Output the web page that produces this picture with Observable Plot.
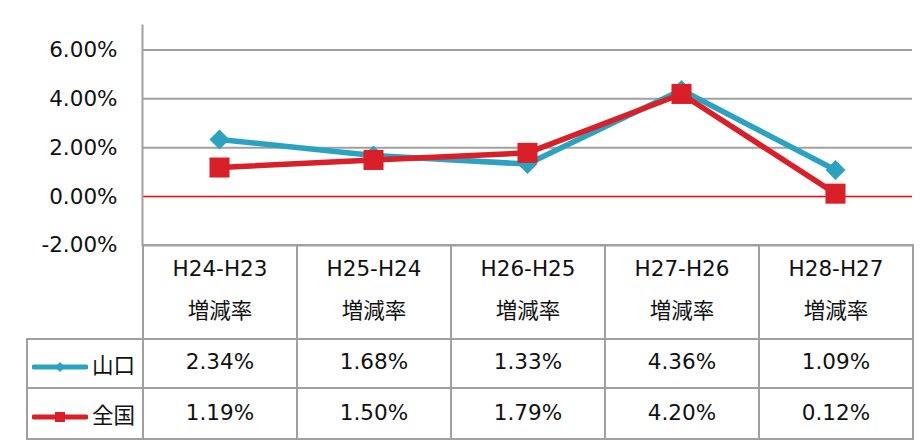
<!DOCTYPE html>
<html><head><meta charset="utf-8">
<script src="https://cdn.jsdelivr.net/npm/d3@7"></script>
<script src="https://cdn.jsdelivr.net/npm/@observablehq/plot@0.6"></script>
<style>
body{margin:0;background:#fff;font-family:"DejaVu Sans","Noto Sans CJK JP",sans-serif;}
#wrap{position:relative;width:923px;height:440px;}
#wrap > svg{position:absolute;left:0;top:0;}
#tbl{position:absolute;left:26px;top:244px;border-collapse:collapse;font-size:21.5px;color:#111;}
#tbl td{border:2px solid #a0a0a0;text-align:center;padding:0;background:#fff;}
#tbl td.blank{border-top:none;border-left:none;border-bottom:2px solid #a0a0a0;background:transparent;}
.cjk{font-family:"Noto Sans CJK JP",sans-serif;}
</style></head>
<body><div id="wrap"></div>
<script>
const categories = ["H24-H23","H25-H24","H26-H25","H27-H26","H28-H27"];
const subLabel = "増減率";
const seriesNames = ["山口","全国"];
const yamaguchi = [2.34,1.68,1.33,4.36,1.09];
const zenkoku = [1.19,1.50,1.79,4.20,0.12];
const yTicks = [-2,0,2,4,6];
const colors = {"山口":"#2ba3c0","全国":"#d91f28"};

const rows = [];
categories.forEach((c,i)=>{rows.push({cat:c,series:"山口",v:yamaguchi[i]});});
categories.forEach((c,i)=>{rows.push({cat:c,series:"全国",v:zenkoku[i]});});
const yam = rows.filter(d=>d.series==="山口");
const zen = rows.filter(d=>d.series==="全国");

const chart = Plot.plot({
  width:923, height:264,
  marginLeft:142, marginRight:11, marginTop:25, marginBottom:19,
  style:{fontFamily:"DejaVu Sans", fontSize:"21.5px", color:"#111", background:"transparent"},
  x:{type:"point", domain:categories, padding:0.5, axis:null},
  y:{domain:[-2,7], ticks:yTicks, tickFormat:d=>d.toFixed(2)+"%", label:null},
  marks:[
    Plot.ruleY(yTicks.filter(t=>t!==0), {stroke:"#a0a0a0", strokeWidth:2}),
    Plot.ruleY([0], {stroke:"#ff0000", strokeWidth:1.5}),
    Plot.frame({anchor:"left", stroke:"#a0a0a0", strokeWidth:2}),
    Plot.axisY({ticks:yTicks, tickFormat:d=>d.toFixed(2)+"%", tickSize:0, tickPadding:25, label:null, fontSize:21.5}),
    Plot.line(yam, {x:"cat", y:"v", stroke:colors["山口"], strokeWidth:5.5}),
    Plot.dot(yam, {x:"cat", y:"v", symbol:"diamond2", r:9, fill:colors["山口"], stroke:null}),
    Plot.line(zen, {x:"cat", y:"v", stroke:colors["全国"], strokeWidth:5.5}),
    Plot.dot(zen, {x:"cat", y:"v", symbol:"square", r:11.3, fill:colors["全国"], stroke:null})
  ]
});
const wrap = document.getElementById("wrap");

function swatch(name){
  const c = colors[name];
  const m = name==="山口"
    ? `<path d="M28 4 L33 9 L28 14 L23 9 Z" fill="${c}"/>`
    : `<rect x="23" y="4" width="10" height="10" fill="${c}"/>`;
  return `<svg width="56" height="18" style="vertical-align:middle;margin-right:4px"><line x1="2" y1="9" x2="54" y2="9" stroke="${c}" stroke-width="5" stroke-linecap="round"/>${m}</svg>`;
}
const fmt = v=>v.toFixed(2)+"%";
let html = `<table id="tbl"><colgroup><col style="width:116px">${categories.map(()=>'<col style="width:154px">').join("")}</colgroup>`;
html += `<tr style="height:94px"><td class="blank"></td>${categories.map(c=>`<td style="vertical-align:top"><div style="line-height:40px;padding-top:3px">${c}</div><div class="cjk" style="line-height:40px">${subLabel}</div></td>`).join("")}</tr>`;
html += `<tr style="height:49px"><td style="text-align:left;padding-left:4px;white-space:nowrap">${swatch("山口")}<span class="cjk">${seriesNames[0]}</span></td>${yamaguchi.map(v=>`<td style="padding-bottom:4px">${fmt(v)}</td>`).join("")}</tr>`;
html += `<tr style="height:51px"><td style="text-align:left;padding-left:4px;white-space:nowrap">${swatch("全国")}<span class="cjk">${seriesNames[1]}</span></td>${zenkoku.map(v=>`<td style="padding-bottom:3px">${fmt(v)}</td>`).join("")}</tr>`;
html += `</table>`;
wrap.insertAdjacentHTML("beforeend", html);
wrap.appendChild(chart);
</script></body></html>
